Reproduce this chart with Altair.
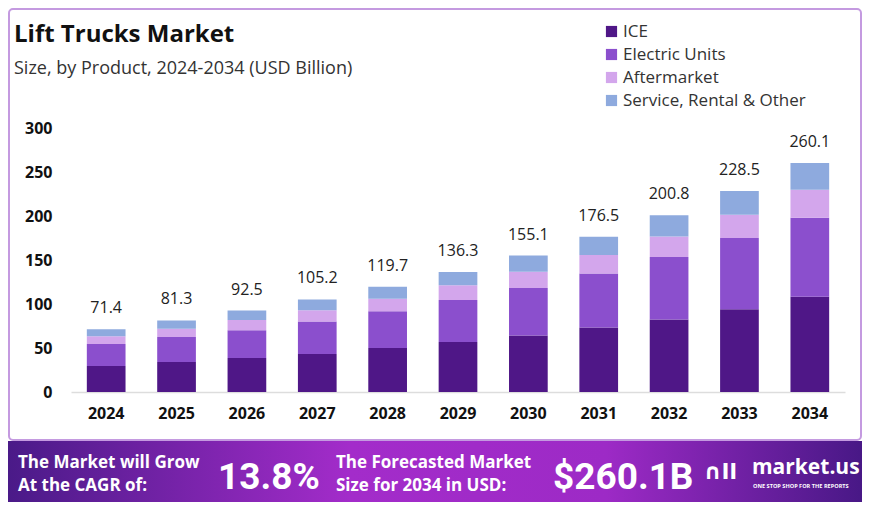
import altair as alt
import pandas as pd

years = ["2024", "2025", "2026", "2027", "2028", "2029", "2030", "2031", "2032", "2033", "2034"]
totals = [71.4, 81.3, 92.5, 105.2, 119.7, 136.3, 155.1, 176.5, 200.8, 228.5, 260.1]
ice = [29.5, 34.1, 38.6, 43.2, 50.0, 56.8, 64.3, 73.4, 82.5, 93.9, 108.3]
electric = [25.0, 28.4, 31.5, 36.8, 41.7, 47.7, 53.9, 61.4, 70.9, 81.1, 89.8]
aftermarket = [8.8, 9.5, 11.7, 12.8, 14.4, 16.7, 18.5, 20.8, 23.4, 26.5, 31.8]
service = [8.1, 9.3, 10.7, 12.4, 13.6, 15.1, 18.4, 20.9, 24.0, 27.0, 30.2]

products = ["ICE", "Electric Units", "Aftermarket", "Service, Rental & Other"]
colors = ["#4f1787", "#8b4fcd", "#d3a6ec", "#8eaade"]
y_ticks = [0, 50, 100, 150, 200, 250, 300]

series = [ice, electric, aftermarket, service]
rows = []
for k, (p, vals) in enumerate(zip(products, series)):
    for y, v in zip(years, vals):
        rows.append({"year": y, "product": p, "value": v, "ord": k})
df = pd.DataFrame(rows)
tot_df = pd.DataFrame({"year": years, "total": totals, "label": [f"{t:.1f}" for t in totals]})

FONT = "Open Sans"
# plot origin sits at page (71, 128)
OX, OY = 71, 128
one = pd.DataFrame({"a": [0]})

def px(x):
    return x - OX

def py(y):
    return y - OY

xenc = alt.X("year:O", sort=years, title=None,
             scale=alt.Scale(paddingInner=0.45, paddingOuter=0.225),
             axis=alt.Axis(labelAngle=0, labelFont=FONT, labelFontSize=16, labelFontWeight="bold",
                           labelColor="#111111", labelPadding=13, ticks=False,
                           domainColor="#dddddd", domainWidth=1.5))

bars = alt.Chart(df).mark_bar().encode(
    x=xenc,
    y=alt.Y("value:Q", stack="zero", title=None,
            scale=alt.Scale(domain=[0, 300], nice=False),
            axis=alt.Axis(values=y_ticks, grid=False, domain=False, ticks=False,
                          labelFont=FONT, labelFontSize=16, labelFontWeight="bold",
                          labelColor="#111111", labelPadding=19)),
    color=alt.Color("product:N", sort=products,
                    scale=alt.Scale(domain=products, range=colors),
                    legend=alt.Legend(orient="none", legendX=px(603), legendY=py(23), title=None,
                                      direction="vertical", symbolType="square", symbolSize=125,
                                      symbolStrokeWidth=0, labelFont=FONT, labelFontSize=17,
                                      labelColor="#333333", rowPadding=5, padding=0, labelOffset=3,
                                      labelLimit=400)),
    order=alt.Order("ord:Q", sort="ascending"),
)

tot = alt.Chart(tot_df).mark_text(font=FONT, fontSize=16, color="#222222", dy=-16,
                                  baseline="alphabetic").encode(
    x=alt.X("year:O", sort=years),
    y=alt.Y("total:Q"),
    text="label:N",
)

border = alt.Chart(one).mark_rect(fillOpacity=0, stroke="#c49ae0", strokeWidth=2, cornerRadius=4).encode(
    x=alt.value(px(9)), x2=alt.value(px(861)), y=alt.value(py(9)), y2=alt.value(py(440)))

def txt(s, x, y, size, weight="normal", color="#111111", font=FONT, align="left"):
    return alt.Chart(one).mark_text(text=s, font=font, fontSize=size, fontWeight=weight,
                                    color=color, align=align, baseline="alphabetic").encode(
        x=alt.value(px(x)), y=alt.value(py(y)))

title = txt("Lift Trucks Market", 14, 42, 24, "bold", "#111111")
subtitle = txt("Size, by Product, 2024-2034 (USD Billion)", 14, 74, 18, "normal", "#333333")

grad = alt.LinearGradient(gradient="linear", x1=0, x2=1, y1=0, y2=0,
                          stops=[alt.GradientStop(color="#4a1a88", offset=0),
                                 alt.GradientStop(color="#a32cca", offset=0.4),
                                 alt.GradientStop(color="#9d2ac6", offset=0.7),
                                 alt.GradientStop(color="#481886", offset=1)])
footer = alt.Chart(one).mark_rect(color=grad).encode(
    x=alt.value(px(8)), x2=alt.value(px(862)), y=alt.value(py(441)), y2=alt.value(py(502)))

W = "#ffffff"
f1 = txt("The Market will Grow", 18, 468, 17, "bold", W)
f2 = txt("At the CAGR of:", 18, 491, 17, "bold", W)
f3 = txt("13.8%", 218, 489, 37, "bold", W, font="Roboto")
f4 = txt("The Forecasted Market", 336, 468, 17, "bold", W)
f5 = txt("Size for 2034 in USD:", 336, 491, 17, "bold", W)
f6 = txt("$260.1B", 553, 489, 37, "bold", W, font="Roboto")
f7 = txt("∩ll", 704, 479, 22, "bold", W, font="DejaVu Sans")
f8 = txt("market.us", 752, 474, 21, "bold", W)
f9 = txt("ONE STOP SHOP FOR THE REPORTS", 753, 488, 5.6, "bold", W)

chart = alt.layer(border, bars, tot, title, subtitle, footer, f1, f2, f3, f4, f5, f6, f7, f8, f9).properties(
    width=774, height=264,
    padding={"left": 63, "top": 120, "right": 17, "bottom": 110},
    autosize=alt.AutoSizeParams(type="none"),
    background="white",
).configure_view(strokeWidth=0)

chart.save("out.html", embed_options={"renderer": "svg", "actions": False})
